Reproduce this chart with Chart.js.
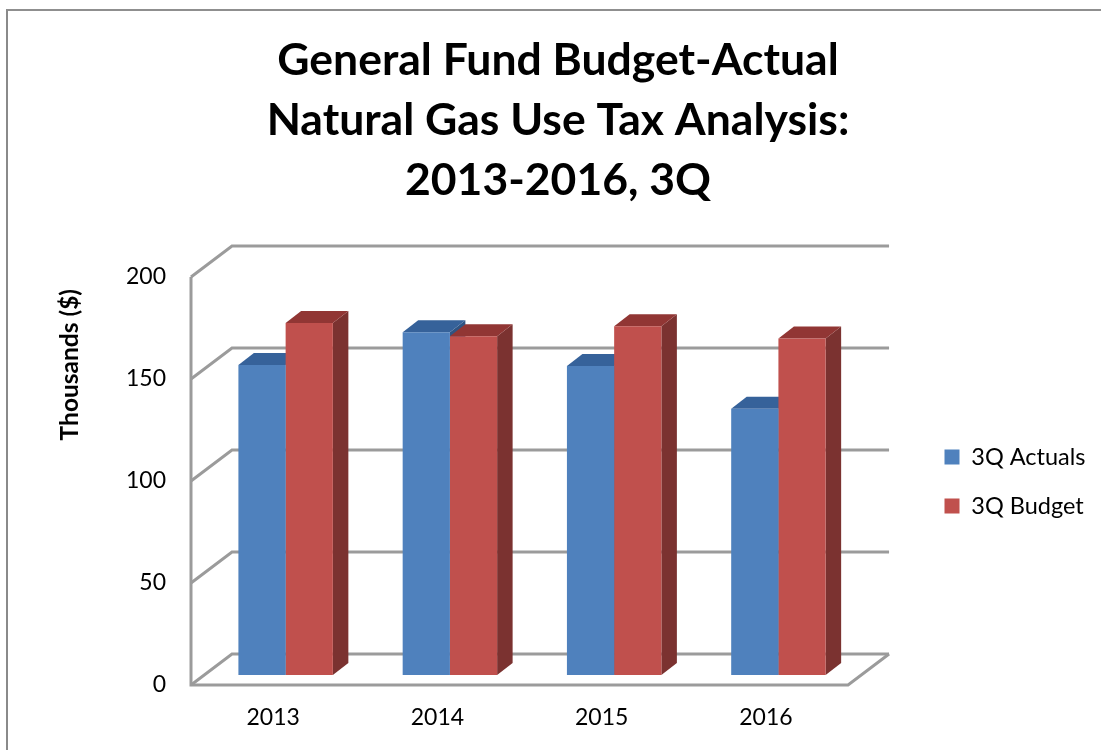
<!DOCTYPE html>
<html>
<head>
<meta charset="utf-8">
<title>Natural Gas Use Tax Analysis</title>
<script src="https://cdn.jsdelivr.net/npm/chart.js@4/dist/chart.umd.min.js"></script>
<style>
    body { margin: 0; background: #fff; }
    #wrap { position: relative; width: 1101px; height: 750px; overflow: hidden; }
    #frame { position: absolute; left: 6px; top: 9px; right: 0; bottom: 0; border-left: 2px solid #8a8a8a; border-top: 2px solid #8f8f8f; }
    canvas { position: absolute; left: 0; top: 0; }
</style>
</head>
<body>
<div id="wrap">
    <div id="frame"></div>
    <canvas id="chart" width="1101" height="750"></canvas>
</div>
<script>
const years = ['2013', '2014', '2015', '2016'];
const actuals = [152, 168, 151.5, 130.5];
const budget = [172.5, 166, 171, 165];
const titleLines = ['General Fund Budget-Actual', 'Natural Gas Use Tax Analysis:', '2013-2016, 3Q'];

const fontFamily = 'Lato, Carlito, "Noto Sans", sans-serif';
const gridColor = '#9b9b9b';

// The walls sit behind the bars, pushed back by this offset
const wallDepth = { x: 41, y: -31 };
// The bars stand in the middle of the floor
const barShift = { x: 12.5, y: -10 };
const barDepth = { x: 15.5, y: -12 };

const faceColors = [
    { top: '#36629a', side: '#2f5483' },
    { top: '#913634', side: '#7b3230' }
];

function drawLine(ctx, points) {
    ctx.beginPath();
    points.forEach((p, i) => i === 0 ? ctx.moveTo(p[0], p[1]) : ctx.lineTo(p[0], p[1]));
    ctx.stroke();
}

function fillFace(ctx, points, color) {
    ctx.fillStyle = color;
    ctx.beginPath();
    points.forEach((p, i) => i === 0 ? ctx.moveTo(p[0], p[1]) : ctx.lineTo(p[0], p[1]));
    ctx.closePath();
    ctx.fill();
}

const fakeDepthPlugin = {
    id: 'fakeDepth',
    afterLayout(chart) {
        // Title is centred over a wider span than the plot, legend floats right of the walls
        chart.titleBlock.left = 15;
        chart.titleBlock.right = 1101;
        chart.legend.left = 919;
        chart.legend.right = 1101;
        chart.legend.top = 419.75;
        chart.legend.bottom = 750;
    },
    beforeDatasetsDraw(chart) {
        const { ctx, chartArea, scales } = chart;
        const yScale = scales.y;
        const left = chartArea.left;
        const right = chartArea.right;
        const y0 = yScale.getPixelForValue(0);

        ctx.save();
        ctx.strokeStyle = gridColor;
        ctx.lineWidth = 3;
        ctx.lineJoin = 'miter';

        // gridlines run along the side wall and then the back wall
        yScale.ticks.forEach(tick => {
            const y = yScale.getPixelForValue(tick.value);
            drawLine(ctx, [[left, y], [left + wallDepth.x, y + wallDepth.y], [right + wallDepth.x, y + wallDepth.y]]);
        });
        drawLine(ctx, [[left, yScale.getPixelForValue(200)], [left, y0], [right, y0], [right + wallDepth.x, y0 + wallDepth.y]]);
        ctx.restore();

        // shift everything the library draws for the bars onto the floor
        ctx.save();
        ctx.translate(barShift.x, barShift.y);

        chart.data.labels.forEach((label, index) => {
            chart.data.datasets.forEach((dataset, datasetIndex) => {
                const bar = chart.getDatasetMeta(datasetIndex).data[index];
                const l = bar.x - bar.width / 2;
                const r = bar.x + bar.width / 2;
                const dx = barDepth.x;
                const dy = barDepth.y;
                fillFace(ctx, [[r, bar.y], [r + dx, bar.y + dy], [r + dx, bar.base + dy], [r, bar.base]], faceColors[datasetIndex].side);
                fillFace(ctx, [[l, bar.y], [l + dx, bar.y + dy], [r + dx, bar.y + dy], [r, bar.y]], faceColors[datasetIndex].top);
            });
        });
    },
    afterDatasetsDraw(chart) {
        chart.ctx.restore();
    }
};

new Chart(document.getElementById('chart'), {
    type: 'bar',
    data: {
        labels: years,
        datasets: [
            { label: '3Q Actuals', data: actuals, backgroundColor: '#4f81bd' },
            { label: '3Q Budget', data: budget, backgroundColor: '#c0504d' }
        ]
    },
    options: {
        responsive: false,
        animation: false,
        categoryPercentage: 0.575,
        barPercentage: 1,
        layout: { padding: { left: 15, right: 76.5, top: 0, bottom: 0 } },
        scales: {
            x: {
                grid: { display: false, drawTicks: false },
                border: { display: false },
                ticks: { color: '#000', padding: 19, font: { family: fontFamily, size: 23 }, maxRotation: 0 },
                afterFit(scale) { scale.height = 65; }
            },
            y: {
                min: 0,
                max: 200,
                grid: { display: false, drawTicks: false },
                border: { display: false },
                ticks: { stepSize: 50, color: '#000', padding: 25, font: { family: fontFamily, size: 23 } },
                title: {
                    display: true,
                    text: 'Thousands ($)\u00a0\u00a0',
                    align: 'end',
                    color: '#000',
                    padding: { top: 40, bottom: 0 },
                    font: { family: fontFamily, size: 24.5, weight: 'bold' }
                },
                afterFit(scale) { scale.width = 176; }
            }
        },
        plugins: {
            title: {
                display: true,
                text: titleLines,
                color: '#000',
                padding: { top: 31, bottom: 66 },
                font: { family: fontFamily, size: 44.5, weight: 'bold', lineHeight: 60 / 44.5 }
            },
            legend: {
                position: 'right',
                align: 'start',
                labels: {
                    boxWidth: 15,
                    boxHeight: 15,
                    padding: 25.5,
                    color: '#000',
                    font: { family: fontFamily, size: 23.5 }
                }
            },
            tooltip: { enabled: false }
        }
    },
    plugins: [fakeDepthPlugin]
});
</script>
</body>
</html>
